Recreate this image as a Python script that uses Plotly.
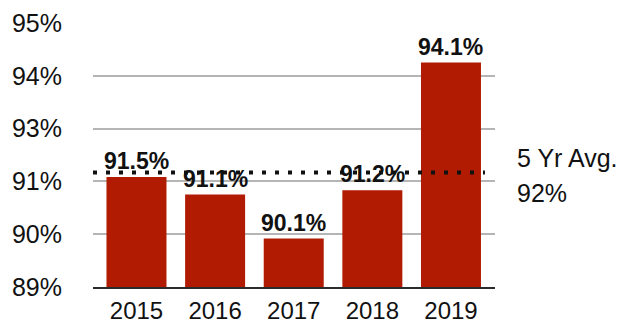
import plotly.graph_objects as go

# Annual rates by year
years = ["2015", "2016", "2017", "2018", "2019"]
rates = [91.5, 91.1, 90.1, 91.2, 94.1]

# Y axis gridline positions and their printed labels
tick_vals = [89.0, 90.2, 91.4, 92.6, 93.8, 95.0]
tick_text = ["89%", "90%", "91%", "93%", "94%", "95%"]

avg = sum(rates) / len(rates)

BAR_RED = "#B11B02"
FONT = "Liberation Sans, Arial, Helvetica, sans-serif"

fig = go.Figure()
fig.add_trace(go.Bar(
    x=list(range(len(years))),
    y=[r - tick_vals[0] for r in rates],
    base=tick_vals[0],
    width=0.763,
    marker=dict(color=BAR_RED, line=dict(width=0)),
    hoverinfo="skip",
))

# Value labels above each bar
for i, r in enumerate(rates):
    fig.add_annotation(
        x=i, y=r, xref="x", yref="y",
        text=f"<b>{r:.1f}%</b>",
        showarrow=False, yanchor="bottom", yshift=1,
        font=dict(family=FONT, size=23, color="#111111"),
    )

# Dotted five-year average line
fig.add_shape(
    type="line", xref="x domain", yref="y",
    x0=0, x1=0.975, y0=avg, y1=avg,
    line=dict(color="#111111", width=4, dash="4px,9px"),
    layer="above",
)

plot_top, plot_bottom = 23, 287
def paper_y(py):
    return (plot_bottom - py) / (plot_bottom - plot_top)

fig.add_annotation(
    x=1.0498, y=paper_y(158.5), xref="paper", yref="paper",
    text="5 Yr Avg.", showarrow=False, xanchor="left", yanchor="middle",
    font=dict(family=FONT, size=25, color="#111111"),
)
fig.add_annotation(
    x=1.0498, y=paper_y(192.5), xref="paper", yref="paper",
    text=f"{round(avg):.0f}%", showarrow=False, xanchor="left", yanchor="middle",
    font=dict(family=FONT, size=25, color="#111111"),
)

fig.update_layout(
    width=624, height=324,
    margin=dict(l=93, r=129, t=plot_top, b=324 - plot_bottom, pad=0, autoexpand=False),
    paper_bgcolor="white", plot_bgcolor="white",
    showlegend=False,
    font=dict(family=FONT, color="#111111"),
    xaxis=dict(
        range=[-0.553, 4.56],
        tickmode="array", tickvals=list(range(len(years))), ticktext=years,
        tickfont=dict(family=FONT, size=24, color="#111111"),
        showgrid=False, zeroline=False,
        showline=True, linecolor="#2b2b2b", linewidth=2,
        ticks="", ticklabelstandoff=1, automargin=False,
        fixedrange=True,
    ),
    yaxis=dict(
        range=[tick_vals[0], tick_vals[-1]],
        tickmode="array", tickvals=tick_vals, ticktext=tick_text,
        tickfont=dict(family=FONT, size=25, color="#111111"),
        showgrid=True, gridcolor="#b5b5b5", gridwidth=1.5,
        zeroline=False, showline=False,
        ticks="", ticklabelstandoff=30, automargin=False,
        fixedrange=True,
    ),
)

fig.write_html("out.html")
